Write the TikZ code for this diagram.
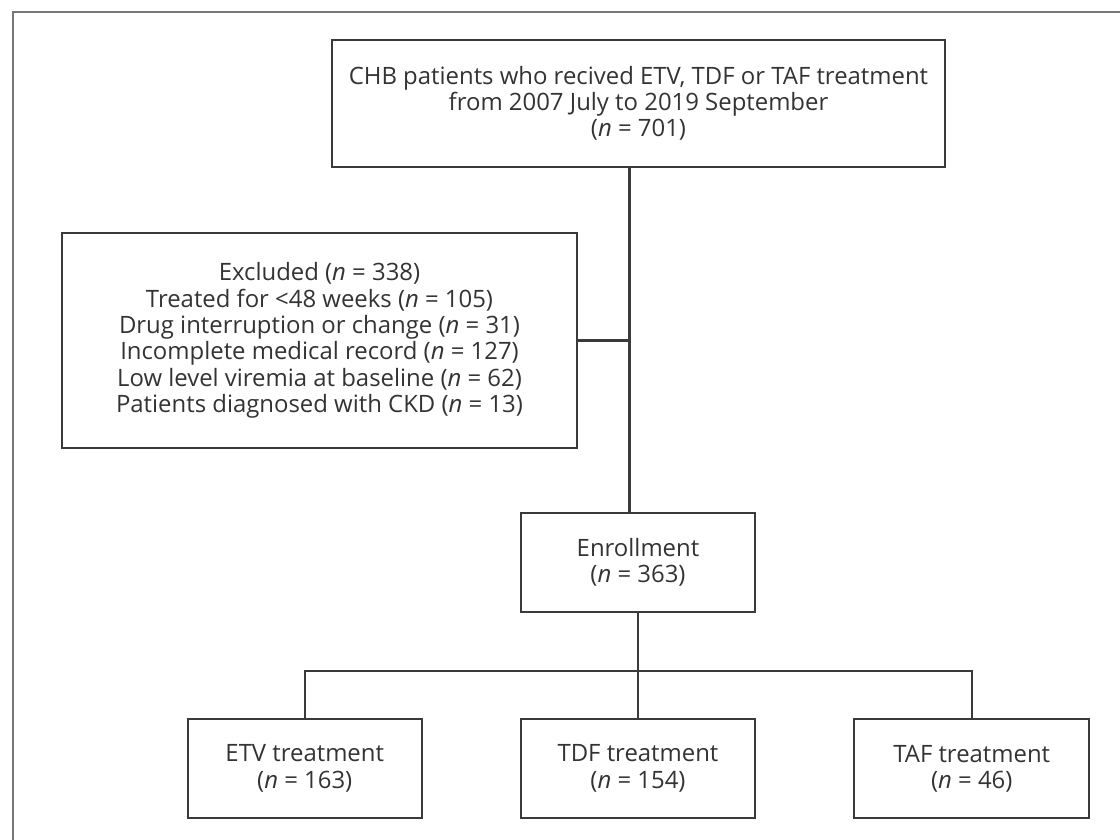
\documentclass[tikz,border=0pt]{standalone}
\usepackage{fontspec}
\setmainfont{Open Sans}
\usepackage{xcolor}
\usetikzlibrary{positioning}
\definecolor{boxline}{HTML}{3A3A3A}
\definecolor{boxtext}{HTML}{333333}
\definecolor{framegray}{HTML}{777777}

\begin{document}
\begin{tikzpicture}[x=0.025cm,y=-0.025cm,
    flow box/.style={rectangle,draw=boxline,line width=1.6pt,align=center,text=boxtext,inner sep=0pt,
        minimum width=234*0.025cm,minimum height=99*0.025cm,font=\fontsize{17}{18.7}\selectfont},
    arm/.style={draw=boxline,line width=1.6pt}]

            \useasboundingbox (0,0) rectangle (1120,840);
            \draw[framegray,line width=1.8pt] (1120,12) -- (13,12) -- (13,840);

            \node[flow box, minimum width=613*0.025cm, minimum height=127*0.025cm] (top) at (638.5,103.5)
                {CHB patients who recived ETV, TDF or TAF treatment\\from 2007 July to 2019 September\\({\itshape n} = 701)};
            \node[flow box, minimum width=515*0.025cm, minimum height=215*0.025cm] (excl) at (319.5,340.5)
                {Excluded ({\itshape n} = 338)\\Treated for <48 weeks ({\itshape n} = 105)\\Drug interruption or change ({\itshape n} = 31)\\Incomplete medical record ({\itshape n} = 127)\\Low level viremia at baseline ({\itshape n} = 62)\\Patients diagnosed with CKD ({\itshape n} = 13)};
            \node[flow box] (enrol) at (638,562.5)
                {Enrollment\\({\itshape n} = 363)};
            \node[flow box] (tdf) at (638,768.5)
                {TDF treatment\\({\itshape n} = 154)};
            \node[flow box, left=97*0.025cm of tdf] (etv)
                {ETV treatment\\({\itshape n} = 163)};
            \node[flow box, minimum width=235*0.025cm, right=97*0.025cm of tdf] (taf)
                {TAF treatment\\({\itshape n} = 46)};

            \coordinate (trunk) at ([xshift=-9*0.025cm]top.south);
            \coordinate (split) at (638,671);

            \path[arm]
                (trunk) edge (trunk |- enrol.north)
                (excl.east) edge (excl.east -| trunk)
                (enrol.south) edge (split)
                (split) edge (tdf.north);
            \draw[arm] (etv.north) |- (split -| taf.north) -- (taf.north);
        \end{tikzpicture}
\end{document}
